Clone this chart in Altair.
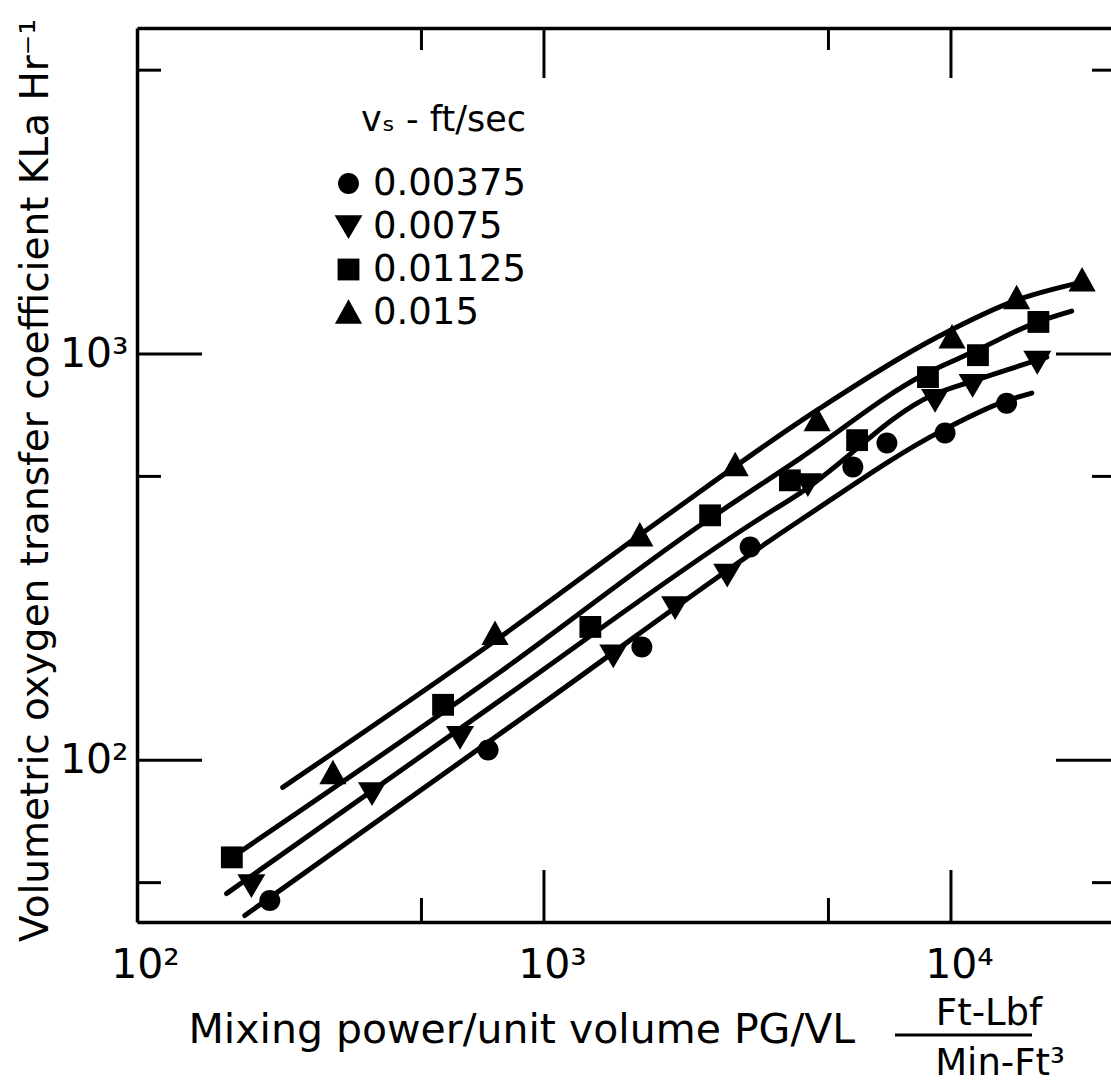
import altair as alt
import pandas as pd

FONT = "DejaVu Sans"

# ---------------- data ----------------
series = ["0.00375", "0.0075", "0.01125", "0.015"]
# marker outlines in the unit box (circle, triangle-down, square, triangle-up)
shapes = [
    "M0.75,0A0.75,0.75 0 1,1 -0.75,0A0.75,0.75 0 1,1 0.75,0Z",
    "M-1,-0.8L1,-0.8L0,0.9Z",
    "M-0.78,-0.78L0.78,-0.78L0.78,0.78L-0.78,0.78Z",
    "M0,-0.95L0.97,0.8L-0.97,0.8Z",
]
MARK_SIZE = 784

# measured points (mixing power/unit volume, KLa)
x_00375 = [212, 729, 1740, 3210, 5740, 6960, 9670, 13700]
y_00375 = [45.2, 106, 190, 335, 527, 604, 639, 757]
x_0075 = [191, 378, 622, 1480, 2100, 2820, 4450, 9140, 11300, 16300]
y_0075 = [49.2, 82.9, 114, 181, 238, 286, 478, 770, 839, 956]
x_01125 = [171, 565, 1300, 2560, 4020, 5880, 8780, 11650, 16400]
y_01125 = [57.7, 137, 213, 401, 489, 614, 878, 994, 1200]
x_015 = [303, 758, 1720, 2950, 4690, 10060, 14500, 21000]
y_015 = [93, 205, 358, 533, 688, 1100, 1375, 1520]

# smooth curves drawn through each series
fx_00375 = [184, 1017, 4260, 9560, 13400, 15800]
fy_00375 = [41.5, 140.5, 390, 650, 762, 802]
fx_0075 = [166, 780, 3340, 4260, 9030, 11300, 17200]
fy_0075 = [47.0, 140.5, 390, 455, 793, 858, 983]
fx_01125 = [171, 780, 2420, 4260, 8540, 11600, 16300, 19800]
fy_01125 = [57.7, 165, 379, 554, 888, 1023, 1199, 1276]
fx_015 = [228, 780, 1930, 4690, 9240, 14500, 21000]
fy_015 = [85.8, 201, 390, 728, 1100, 1358, 1504]

# axis ticks
x_ticks_long = [1000, 10000]
x_ticks_short = [500, 5000]
y_ticks_long = [100, 1000]
y_ticks_short = [50, 500, 5000]
x_label_values = [100, 1000, 10000]
y_label_values = [100, 1000]

x_domain = [100, 24730]
y_domain = [40, 6350]

y_title = "Volumetric oxygen transfer coefficient KLa Hr⁻¹"
x_title = "Mixing power/unit volume PG/VL"
unit_num = "Ft-Lbf"
unit_den = "Min-Ft³"
legend_title = "vₛ - ft/sec"

# ---------------- tables ----------------
pt_sets = [(x_00375, y_00375), (x_0075, y_0075), (x_01125, y_01125), (x_015, y_015)]
fit_sets = [(fx_00375, fy_00375), (fx_0075, fy_0075), (fx_01125, fy_01125), (fx_015, fy_015)]
pts_df = pd.concat(
    [pd.DataFrame({"x": xs, "y": ys, "vs": s}) for s, (xs, ys) in zip(series, pt_sets)],
    ignore_index=True,
)
fit_df = pd.concat(
    [pd.DataFrame({"x": xs, "y": ys, "vs": s}) for s, (xs, ys) in zip(series, fit_sets)],
    ignore_index=True,
)

# ---------------- chart ----------------
W, H = 974, 894
xscale = alt.Scale(type="log", domain=x_domain, nice=False)
yscale = alt.Scale(type="log", domain=y_domain, nice=False)
sup = "datum.value == 100 ? '10²' : (datum.value == 1000 ? '10³' : '10⁴')"

leg = alt.Legend(
    title=legend_title, orient="none", legendX=193, legendY=75,
    titleFont=FONT, titleFontSize=35, titleFontWeight="normal", titleColor="black",
    titleAnchor="end", titlePadding=27,
    labelFont=FONT, labelFontSize=37, labelColor="black", labelOffset=6,
    rowPadding=5, symbolSize=MARK_SIZE, symbolFillColor="black",
    symbolStrokeColor="black", symbolStrokeWidth=0, symbolOpacity=1, padding=0,
)

points = alt.Chart(pts_df).mark_point(
    filled=True, opacity=1, color="black", strokeWidth=0, size=MARK_SIZE
).encode(
    x=alt.X("x:Q", scale=xscale, axis=alt.Axis(
        orient="bottom", values=x_label_values, labelExpr=sup, ticks=False, tickSize=0,
        tickOffset=8,
        grid=False, domain=True, domainColor="black", domainWidth=3.5,
        labelFont=FONT, labelFontSize=41, labelColor="black", labelPadding=55,
        labelBaseline="alphabetic", labelAlign="center", labelFlush=False,
        labelOverlap=False, title=x_title, titleFont=FONT, titleFontSize=41,
        titleFontWeight="normal", titleColor="black", titleX=51, titleY=120,
        titleAlign="left", titleBaseline="alphabetic")),
    y=alt.Y("y:Q", scale=yscale, axis=alt.Axis(
        orient="left", values=y_label_values, labelExpr=sup, ticks=False, tickSize=0,
        grid=False, domain=True, domainColor="black", domainWidth=3.5,
        labelFont=FONT, labelFontSize=41, labelColor="black", labelPadding=9,
        labelFlush=False, labelOverlap=False, title=y_title, titleFont=FONT,
        titleFontSize=39, titleFontWeight="normal", titleColor="black",
        titleX=-90, titleY=452, titleAlign="center", titleBaseline="alphabetic")),
    shape=alt.Shape("vs:N", scale=alt.Scale(domain=series, range=shapes), legend=leg),
)

curves = alt.Chart(fit_df).mark_line(
    interpolate="monotone", color="black", strokeWidth=5, strokeCap="round"
).encode(
    x=alt.X("x:Q", scale=xscale, axis=alt.Axis(
        orient="top", labels=False, ticks=False, grid=False, domain=True,
        domainColor="black", domainWidth=3.5, title=None)),
    y=alt.Y("y:Q", scale=yscale, axis=None),
    detail="vs:N",
)


def xtick_layer(vals, at_top, length):
    base = alt.Chart(pd.DataFrame({"x": vals})).mark_rule(color="black", strokeWidth=3)
    if at_top:
        return base.encode(x=alt.X("x:Q", scale=xscale, axis=None),
                           y=alt.value(0), y2=alt.value(length))
    return base.encode(x=alt.X("x:Q", scale=xscale, axis=None),
                       y=alt.value(H), y2=alt.value(H - length))


def ytick_layer(vals, at_right, length):
    base = alt.Chart(pd.DataFrame({"y": vals})).mark_rule(color="black", strokeWidth=3)
    if at_right:
        return base.encode(y=alt.Y("y:Q", scale=yscale, axis=None),
                           x=alt.value(W), x2=alt.value(W - length))
    return base.encode(y=alt.Y("y:Q", scale=yscale, axis=None),
                       x=alt.value(0), x2=alt.value(length))


ticks = [
    xtick_layer(x_ticks_long, False, 52), xtick_layer(x_ticks_short, False, 24),
    xtick_layer(x_ticks_long, True, 50), xtick_layer(x_ticks_short, True, 22),
    ytick_layer(y_ticks_long, False, 65), ytick_layer(y_ticks_short, False, 24),
    ytick_layer(y_ticks_long, True, 55), ytick_layer(y_ticks_short, True, 19),
]

num_text = alt.Chart(pd.DataFrame({"t": [unit_num]})).mark_text(
    font=FONT, fontSize=37, align="center", baseline="alphabetic", color="black"
).encode(text="t:N", x=alt.value(852), y=alt.value(997))
den_text = alt.Chart(pd.DataFrame({"t": [unit_den]})).mark_text(
    font=FONT, fontSize=37, align="center", baseline="alphabetic", color="black"
).encode(text="t:N", x=alt.value(863), y=alt.value(1047))
frac_bar = alt.Chart(pd.DataFrame({"t": [unit_num]})).mark_rule(
    color="black", strokeWidth=3
).encode(x=alt.value(758), x2=alt.value(895), y=alt.value(1007))

chart = alt.layer(
    *ticks, curves, points, num_text, den_text, frac_bar
).resolve_axis(
    x="independent", y="independent"
).properties(
    width=W, height=H,
    autosize=alt.AutoSizeParams(type="none"),
    padding={"left": 137, "top": 28, "right": 0, "bottom": 161},
    background="white",
).configure_view(stroke=None)

chart.save("out.html", embed_options={"renderer": "svg", "actions": False})
